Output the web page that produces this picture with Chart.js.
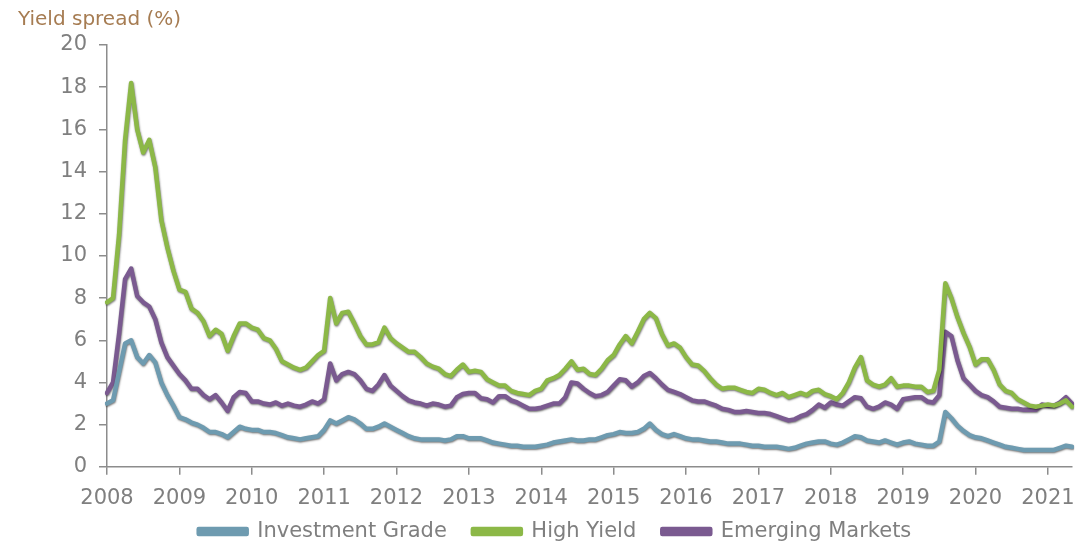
<!DOCTYPE html>
<html>
<head>
<meta charset="utf-8">
<script src="https://cdn.jsdelivr.net/npm/chart.js@4"></script>
<style>
  html, body { margin: 0; padding: 0; overflow: hidden; background: #fff; }
  #wrap { width: 1087px; height: 579px; }
</style>
</head>
<body>
<div id="wrap"><canvas id="spreadChart"></canvas></div>
<script>
// Monthly observations, Jan 2008 - May 2021
const months = [];
for (let y = 2008; y <= 2021; y++) {
    for (let m = 1; m <= 12; m++) {
        if (y === 2021 && m > 5) break;
        months.push(y + '-' + String(m).padStart(2, '0'));
    }
}

const investmentGrade = [
    3.0, 3.15, 4.5, 5.85, 6.0, 5.2, 4.9, 5.3, 4.95, 4.0, 3.4, 2.9,
    2.35, 2.25, 2.1, 2.0, 1.85, 1.65, 1.65, 1.55, 1.4, 1.65, 1.9, 1.8,
    1.75, 1.75, 1.65, 1.65, 1.6, 1.5, 1.4, 1.35, 1.3, 1.35, 1.4, 1.45,
    1.75, 2.2, 2.05, 2.2, 2.35, 2.25, 2.05, 1.8, 1.8, 1.9, 2.05, 1.9,
    1.75, 1.6, 1.45, 1.35, 1.3, 1.3, 1.3, 1.3, 1.25, 1.3, 1.45, 1.45,
    1.35, 1.35, 1.35, 1.25, 1.15, 1.1, 1.05, 1.0, 1.0, 0.95, 0.95, 0.95,
    1.0, 1.05, 1.15, 1.2, 1.25, 1.3, 1.25, 1.25, 1.3, 1.3, 1.4, 1.5,
    1.55, 1.65, 1.6, 1.6, 1.65, 1.8, 2.05, 1.75, 1.55, 1.45, 1.55, 1.45,
    1.35, 1.3, 1.3, 1.25, 1.2, 1.2, 1.15, 1.1, 1.1, 1.1, 1.05, 1.0,
    1.0, 0.95, 0.95, 0.95, 0.9, 0.85, 0.9, 1.0, 1.1, 1.15, 1.2, 1.2,
    1.1, 1.05, 1.15, 1.3, 1.45, 1.4, 1.25, 1.2, 1.15, 1.25, 1.15, 1.05,
    1.15, 1.2, 1.1, 1.05, 1.0, 1.0, 1.2, 2.6, 2.3, 1.95, 1.7, 1.5,
    1.4, 1.35, 1.25, 1.15, 1.05, 0.95, 0.9, 0.85, 0.8, 0.8, 0.8, 0.8,
    0.8, 0.8, 0.9, 1.0, 0.95
];

const highYield = [
    7.8, 8.0, 11.0, 15.5, 18.2, 16.0, 14.9, 15.5, 14.2, 11.7, 10.4, 9.3,
    8.4, 8.3, 7.5, 7.3, 6.9, 6.2, 6.5, 6.3, 5.5, 6.2, 6.8, 6.8,
    6.6, 6.5, 6.1, 6.0, 5.6, 5.0, 4.85, 4.7, 4.6, 4.7, 5.0, 5.3,
    5.5, 8.0, 6.8, 7.3, 7.35, 6.8, 6.2, 5.8, 5.8, 5.9, 6.6, 6.1,
    5.85, 5.65, 5.45, 5.45, 5.2, 4.9, 4.75, 4.65, 4.4, 4.3, 4.6, 4.85,
    4.5, 4.55, 4.5, 4.15, 4.0, 3.85, 3.85, 3.6, 3.5, 3.45, 3.4, 3.6,
    3.7, 4.1, 4.2, 4.35, 4.65, 5.0, 4.6, 4.65, 4.4, 4.35, 4.65, 5.05,
    5.3, 5.8, 6.2, 5.85, 6.4, 7.0, 7.3, 7.05, 6.3, 5.75, 5.85, 5.65,
    5.2, 4.85, 4.8, 4.55, 4.2, 3.9, 3.7, 3.75, 3.75, 3.65, 3.55, 3.5,
    3.7, 3.65, 3.5, 3.4, 3.5, 3.3, 3.4, 3.5, 3.4, 3.6, 3.65, 3.45,
    3.35, 3.2, 3.5, 4.0, 4.7, 5.2, 4.1, 3.9, 3.8, 3.9, 4.2, 3.8,
    3.85, 3.85, 3.8, 3.8, 3.55, 3.6, 4.6, 8.7, 8.0, 7.1, 6.35, 5.7,
    4.85, 5.1, 5.1, 4.6, 3.9, 3.6, 3.5, 3.2, 3.05, 2.9, 2.85, 2.9,
    2.95, 2.9, 3.0, 3.15, 2.85
];

const emergingMarkets = [
    3.5, 4.0, 6.3, 8.9, 9.4, 8.1, 7.8, 7.6, 7.0, 5.9, 5.2, 4.8,
    4.4, 4.1, 3.7, 3.7, 3.4, 3.2, 3.4, 3.05, 2.65, 3.3, 3.55, 3.5,
    3.1, 3.1, 3.0, 2.95, 3.05, 2.9, 3.0, 2.9, 2.85, 2.95, 3.1, 3.0,
    3.2, 4.9, 4.1, 4.4, 4.5, 4.4, 4.1, 3.7, 3.6, 3.9, 4.35, 3.85,
    3.6, 3.35, 3.15, 3.05, 3.0, 2.9, 3.0, 2.95, 2.85, 2.9, 3.3, 3.45,
    3.5, 3.5, 3.25, 3.2, 3.05, 3.35, 3.35, 3.15, 3.05, 2.9, 2.75, 2.75,
    2.8, 2.9, 3.0, 3.0, 3.3, 4.0, 3.95, 3.7, 3.5, 3.35, 3.4, 3.55,
    3.85, 4.15, 4.1, 3.8, 4.0, 4.3, 4.45, 4.2, 3.9, 3.65, 3.55, 3.45,
    3.3, 3.15, 3.1, 3.1, 3.0, 2.9, 2.75, 2.7, 2.6, 2.6, 2.65, 2.6,
    2.55, 2.55, 2.5, 2.4, 2.3, 2.2, 2.25, 2.4, 2.5, 2.7, 2.95, 2.8,
    3.05, 2.95, 2.9, 3.1, 3.3, 3.25, 2.85, 2.75, 2.85, 3.05, 2.95, 2.75,
    3.2, 3.25, 3.3, 3.3, 3.1, 3.05, 3.4, 6.4, 6.2, 5.05, 4.2, 3.9,
    3.6, 3.4, 3.3, 3.1, 2.85, 2.8, 2.75, 2.75, 2.7, 2.7, 2.7, 2.95,
    2.9, 2.9, 3.05, 3.3, 3.0
];

const yTicksMax = 20;
const yTickStep = 2;

// soft dark edge under each line, like the original's shadowed strokes
const lineShadow = {
    id: 'lineShadow',
    beforeDatasetDraw(chart) {
        const ctx = chart.ctx;
        ctx.save();
        ctx.shadowColor = 'rgba(0, 0, 0, 0.55)';
        ctx.shadowBlur = 2;
        ctx.shadowOffsetX = 0.5;
        ctx.shadowOffsetY = 1;
    },
    afterDatasetDraw(chart) {
        chart.ctx.restore();
    }
};

// pull the legend up under the year labels and a little to the right
const legendNudge = {
    id: 'legendNudge',
    afterLayout(chart) {
        const lg = chart.legend;
        lg.top -= 27;
        lg.bottom -= 27;
        lg.left += 10;
        lg.right += 10;
    }
};

const axisGrey = '#8c8c8c';
const labelGrey = '#7f7f7f';

new Chart(document.getElementById('spreadChart'), {
    type: 'line',
    data: {
        labels: months,
        datasets: [{
            label: 'Investment Grade',
            data: investmentGrade,
            borderColor: '#6e9bb0',
            backgroundColor: '#6e9bb0'
        }, {
            label: 'High Yield',
            data: highYield,
            borderColor: '#8cb847',
            backgroundColor: '#8cb847'
        }, {
            label: 'Emerging Markets',
            data: emergingMarkets,
            borderColor: '#7a5a90',
            backgroundColor: '#7a5a90'
        }]
    },
    options: {
        responsive: true,
        maintainAspectRatio: false,
        animation: false,
        elements: {
            line: { borderWidth: 4.5, tension: 0, borderJoinStyle: 'round', borderCapStyle: 'round' },
            point: { radius: 0 }
        },
        layout: { padding: { left: 18, right: 15, top: 4, bottom: 0 } },
        plugins: {
            title: {
                display: true,
                text: 'Yield spread (%)',
                align: 'start',
                color: '#a67c52',
                font: { family: 'DejaVu Sans', size: 20, weight: 'normal' },
                padding: { top: 4, bottom: 13 }
            },
            legend: {
                position: 'bottom',
                labels: {
                    boxWidth: 48,
                    boxHeight: 5,
                    color: labelGrey,
                    font: { family: 'DejaVu Sans', size: 21 },
                    padding: 26
                }
            },
            tooltip: { enabled: false }
        },
        scales: {
            x: {
                type: 'category',
                offset: false,
                grid: { drawOnChartArea: false, drawTicks: true, tickLength: 8, color: axisGrey, lineWidth: 1.5 },
                border: { color: axisGrey, width: 1.5 },
                ticks: {
                    autoSkip: false,
                    maxRotation: 0,
                    color: labelGrey,
                    font: { family: 'DejaVu Sans', size: 21 },
                    padding: 11,
                    callback: function(value) {
                        const lab = this.getLabelForValue(value);
                        return lab.endsWith('-01') ? lab.slice(0, 4) : null;
                    }
                }
            },
            y: {
                min: 0,
                max: yTicksMax,
                grid: { drawOnChartArea: false, drawTicks: true, tickLength: 8, color: axisGrey, lineWidth: 1.5 },
                border: { color: axisGrey, width: 1.5 },
                ticks: {
                    stepSize: yTickStep,
                    color: labelGrey,
                    font: { family: 'DejaVu Sans', size: 21 },
                    padding: 12
                },
                afterFit: function(scale) { scale.width = 89; }
            }
        }
    },
    plugins: [lineShadow, legendNudge]
});
</script>
</body>
</html>
